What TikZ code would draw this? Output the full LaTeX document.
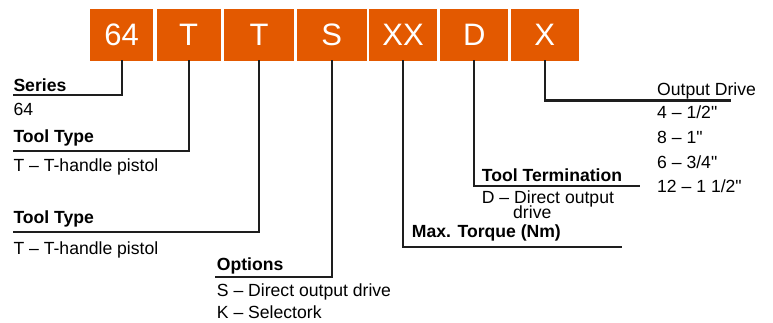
\documentclass[tikz,border=0pt]{standalone}
\usepackage{fontspec}
\setmainfont{Liberation Sans}[Ligatures=TeXOff]
\definecolor{codeorange}{RGB}{227,89,0}
\definecolor{linegray}{RGB}{30,30,30}
\tikzset{
  codebox/.style={fill=codeorange, text=white, inner sep=0pt, minimum height=51.7pt,
    font=\fontsize{31}{36}\selectfont, anchor=center},
  head/.style={anchor=base west, inner sep=0pt, font=\fontsize{17.6}{20}\selectfont\bfseries},
  item/.style={anchor=base west, inner sep=0pt, font=\fontsize{17.6}{20}\selectfont},
  conn/.style={draw=linegray, line width=2.3pt, line cap=rect}
}
\begin{document}
\begin{tikzpicture}[x=1pt,y=-1pt]
\useasboundingbox (0,0) rectangle (773,322);
% code boxes
\node[codebox, minimum width=63.3pt] (b1) at (121.7,35.2) {64};
\node[codebox, minimum width=64pt]   (b2) at (188.7,35.2) {T};
\node[codebox, minimum width=70pt]   (b3) at (259.0,35.2) {T};
\node[codebox, minimum width=70pt]   (b4) at (331.7,35.2) {S};
\node[codebox, minimum width=67.4pt] (b5) at (403.0,35.2) {XX};
\node[codebox, minimum width=68.3pt] (b6) at (474.2,35.2) {D};
\node[codebox, minimum width=67.7pt] (b7) at (544.8,35.2) {X};
% labels
\node[head] (series) at (13.3,91.7) {Series};
\node[item] (series1) at (13.3,115) {64};
\node[head] (tt1) at (13.3,142.7) {Tool Type};
\node[item] (tt1a) at (13.3,171.7) {T – T-handle pistol};
\node[head] (tt2) at (13.3,223.3) {Tool Type};
\node[item] (tt2a) at (13.3,254) {T – T-handle pistol};
\node[head] (opt) at (216.7,270) {Options};
\node[item] (opta) at (216.7,296.5) {S – Direct output drive};
\node[item] (optb) at (216.7,318.5) {K – Selectork};
\node[head] (torque) at (411.7,237) {Max. Torque (Nm)};
\node[head] (term) at (481.7,181) {Tool Termination};
\node[item] (terma) at (481.7,203) {D – Direct output};
\node[item] (termb) at (513,218) {drive};
\node[item] (out) at (657,95.5) {Output Drive};
\node[item] (out1) at (657,118.5) {4 – 1/2"};
\node[item] (out2) at (657,143.5) {8 – 1"};
\node[item] (out3) at (657,168) {6 – 3/4"};
\node[item] (out4) at (657,192.5) {12 – 1 1/2"};
% connector end points
\coordinate (e1) at (14,95);
\coordinate (e2) at (14,150.7);
\coordinate (e3) at (14,231.7);
\coordinate (e4) at (216,276.7);
\coordinate (e5) at (621,247);
\coordinate (e6) at (639,185.7);
\coordinate (e7) at (730,100.5);
% connectors
\draw[conn] (b1.south) |- (e1);
\draw[conn] (b2.south) |- (e2);
\draw[conn] (b3.south) |- (e3);
\draw[conn] (b4.south) |- (e4);
\draw[conn] (b5.south) |- (e5);
\draw[conn] (b6.south) |- (e6);
\draw[conn] (b7.south) |- (e7);
\end{tikzpicture}
\end{document}
